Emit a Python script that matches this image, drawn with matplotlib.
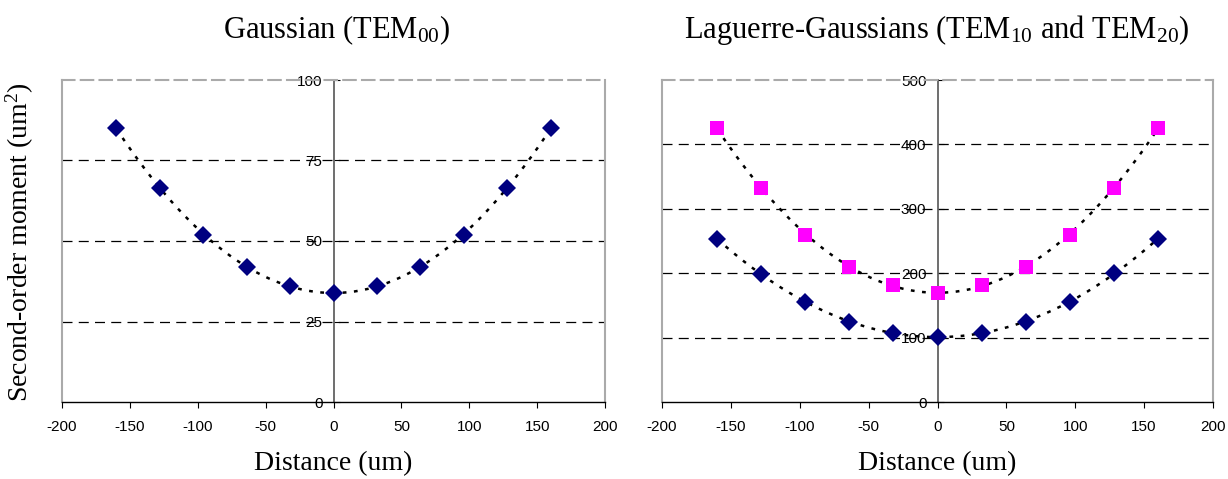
import numpy as np
import matplotlib
matplotlib.use("Agg")
import matplotlib.pyplot as plt

plt.rcParams['mathtext.fontset'] = 'custom'
plt.rcParams['mathtext.rm'] = 'Liberation Serif'
plt.rcParams['mathtext.it'] = 'Liberation Serif:italic'
plt.rcParams['axes.unicode_minus'] = False

distance = [-160, -128, -96, -64, -32, 0, 32, 64, 96, 128, 160]
tem00 = [85, 66.5, 52, 42, 36, 34, 36, 42, 52, 66.5, 85]
tem10 = [253, 199, 155, 125, 107, 101, 107, 125, 155, 200, 253]
tem20 = [425, 332, 260, 210, 181, 170, 181, 210, 260, 332, 425]

title_left = r"Gaussian (TEM$\mathregular{_{00}}$)"
title_right = r"Laguerre-Gaussians (TEM$\mathregular{_{10}}$ and TEM$\mathregular{_{20}}$)"
xlabel = "Distance (um)"
ylabel = r"Second-order moment (um$\mathregular{^2}$)"
xticks = [-200, -150, -100, -50, 0, 50, 100, 150, 200]

W, H = 1228, 479
fig = plt.figure(figsize=(W/100, H/100), dpi=100)

def make_ax(rect, ymax, ystep, series):
    ax = fig.add_axes(rect)
    ax.set_xlim(-200, 200)
    ax.set_ylim(0, ymax)
    yt = np.arange(0, ymax + 1, ystep)
    for v in yt[1:-1]:
        ax.axhline(v, color='black', lw=0.9, ls=(0, (8, 5)), zorder=1)
    ax.spines['left'].set_position(('data', 0))
    ax.spines['left'].set_color('#555555')
    ax.spines['left'].set_linewidth(1.2)
    ax.spines['right'].set_color('#aaaaaa')
    ax.spines['right'].set_linewidth(1.5)
    ax.spines['top'].set_color('#aaaaaa')
    ax.spines['top'].set_linewidth(1.5)
    ax.spines['top'].set_linestyle((0, (6, 3)))
    ax.spines['bottom'].set_color('black')
    ax.spines['bottom'].set_linewidth(1.0)
    ax.axvline(-200, color='#aaaaaa', lw=1.5, zorder=2, clip_on=False)
    ax.set_xticks(xticks)
    ax.set_yticks(yt)
    ax.tick_params(axis='x', labelsize=11, length=4, width=0.8, direction='out',
                   labelfontfamily='Liberation Sans', pad=9)
    ax.tick_params(axis='y', labelsize=11, length=4, width=0.8, direction='in',
                   labelfontfamily='Liberation Sans', pad=8)
    xs = np.linspace(min(distance), max(distance), 200)
    for ys, marker, color, ms in series:
        c = np.polyfit(distance, ys, 2)
        ax.plot(xs, np.polyval(c, xs), color='black', lw=1.8, ls=(0, (1.5, 3)), zorder=3)
        ax.plot(distance, ys, ls='none', marker=marker, color=color, ms=ms,
                markeredgewidth=0, zorder=4, clip_on=False)
    ax.set_xlabel(xlabel, fontfamily='Liberation Serif', fontsize=20, labelpad=12)
    return ax

axL = make_ax([62/W, 1-402/H, 543/W, 322/H], 100, 25,
              [(tem00, 'D', '#000080', 9.5)])
axR = make_ax([662/W, 1-402/H, 551/W, 322/H], 500, 100,
              [(tem20, 's', '#ff00ff', 10.5), (tem10, 'D', '#000080', 9.5)])

fig.text(337/W, 1-30/H, title_left, ha='center', va='center',
         fontfamily='Liberation Serif', fontsize=22)
fig.text(937/W, 1-30/H, title_right, ha='center', va='center',
         fontfamily='Liberation Serif', fontsize=22)
fig.text(20/W, 1-242/H, ylabel, ha='center', va='center', rotation=90,
         fontfamily='Liberation Serif', fontsize=20)

fig.savefig("out.png", dpi=100)
